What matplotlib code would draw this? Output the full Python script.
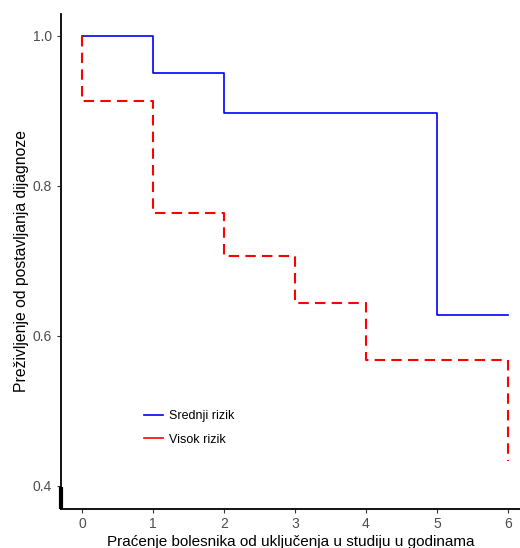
import matplotlib
matplotlib.use("Agg")
import matplotlib.pyplot as plt

plt.rcParams['font.family'] = ['Liberation Sans', 'DejaVu Sans']
plt.rcParams['lines.scale_dashes'] = False

# survival curves (step functions)
t_srednji = [0, 1, 2, 5, 6]
s_srednji = [1.0, 0.95, 0.897, 0.628, 0.628]
t_visok = [0, 0, 1, 2, 3, 4, 6]
s_visok = [1.0, 0.913, 0.764, 0.706, 0.643, 0.567, 0.433]

xticks = [0, 1, 2, 3, 4, 5, 6]
yticks = [0.4, 0.6, 0.8, 1.0]

fig = plt.figure(figsize=(5.2, 5.48), dpi=100)
ax = fig.add_axes([0.1173, 0.0712, 0.8827, 0.9033])

ax.plot(t_srednji, s_srednji, drawstyle='steps-post', color='#0000FF', lw=1.2,
        label='Srednji rizik')
ax.plot(t_visok, s_visok, drawstyle='steps-post', color='#FF0000', lw=1.5,
        dashes=(7.5, 4.5))
ax.plot([], [], color='#FF0000', lw=1.2, label='Visok rizik')

ax.set_xlim(-0.296, 6.17)
ax.set_ylim(0.369, 1.029)
ax.set_xticks(xticks)
ax.set_yticks(yticks)
ax.set_xticklabels([str(v) for v in xticks])
ax.set_yticklabels([f"{v:.1f}" for v in yticks])

for side in ['top', 'right']:
    ax.spines[side].set_visible(False)
for side in ['left', 'bottom']:
    ax.spines[side].set_linewidth(1.3)
ax.tick_params(axis='both', colors='#333333', labelcolor='#4D4D4D',
               labelsize=10, length=3, width=0.8)
ax.tick_params(axis='x', pad=3)

# small thick stub at the bottom of the y axis
ax.plot([0, 0], [0, 0.045], transform=ax.transAxes, color='black', lw=3,
        clip_on=False, solid_capstyle='butt')

ax.set_xlabel('Praćenje bolesnika od uključenja u studiju u godinama',
              fontsize=11, labelpad=3)
ax.set_ylabel('Preživljenje od postavljanja dijagnoze', fontsize=11.3, labelpad=3)

ax.legend(loc='upper left', bbox_to_anchor=(0.157, 0.222), frameon=False,
          fontsize=9, handlelength=1.5, labelspacing=0.9, handletextpad=0.5)

fig.savefig('out.png', dpi=100)
